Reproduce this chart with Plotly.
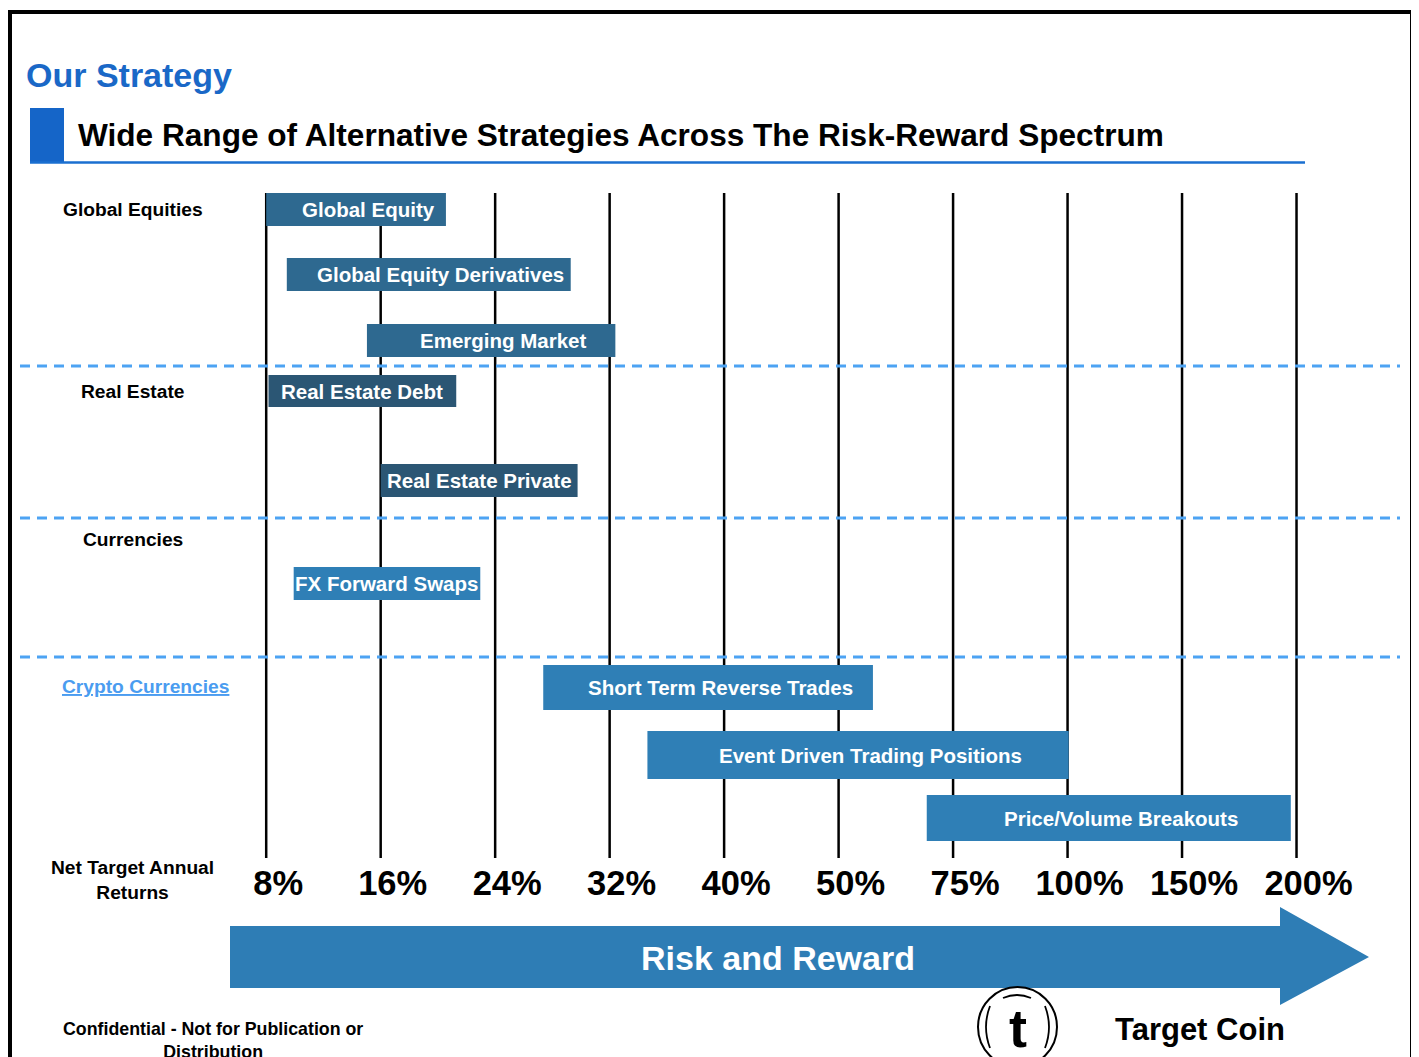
import plotly.graph_objects as go

# ---------------- data ----------------
returns = ["8%", "16%", "24%", "32%", "40%", "50%", "75%", "100%", "150%", "200%"]
asset_classes = ["Global Equities", "Real Estate", "Currencies", "Crypto Currencies"]
strategies = ["Global Equity", "Global Equity Derivatives", "Emerging Market",
              "Real Estate Debt", "Real Estate Private", "FX Forward Swaps",
              "Short Term Reverse Trades", "Event Driven Trading Positions",
              "Price/Volume Breakouts"]
strategy_class = ["Global Equities"] * 3 + ["Real Estate"] * 2 + ["Currencies"] + ["Crypto Currencies"] * 3
# target-return span of each strategy, as a position on the return scale (index into `returns`)
range_low = [0.0, 0.18, 0.88, 0.02, 1.0, 0.24, 2.42, 3.33, 5.77]
range_high = [1.57, 2.66, 3.05, 1.66, 2.72, 1.87, 5.30, 7.01, 8.95]

# ---------------- layout / style ----------------
PAGE_W, PAGE_H = 1419, 1057
OFF = 8  # default page margin of the html body
W, H = PAGE_W - OFF, PAGE_H - OFF
FONT = "Liberation Sans, Arial, Helvetica, sans-serif"
ROW_CENTER = [209.5, 274.5, 340.5, 391, 480.5, 583.5, 687.5, 755, 818]
ROW_HEIGHT = [33, 33, 33, 32, 33, 33, 45, 48, 46]
CLASS_COLOR = {"Global Equities": "#2e6990", "Real Estate": "#2b5674",
               "Currencies": "#2f7fb6", "Crypto Currencies": "#2f7fb6"}
CLASS_TEXT_SHIFT = {"Global Equities": 12, "Real Estate": 0, "Currencies": 0, "Crypto Currencies": 12}
CLASS_LABEL_POS = {"Global Equities": (133, 209), "Real Estate": (133, 391),
                   "Currencies": (133, 539), "Crypto Currencies": (145, 686)}
X0_PX, STEP_PX = 266.2, 114.48
X_RANGE = [(OFF - X0_PX) / STEP_PX, (PAGE_W - X0_PX) / STEP_PX]

fig = go.Figure()

for cls in asset_classes:
    idx = [i for i, c in enumerate(strategy_class) if c == cls]
    fig.add_trace(go.Bar(
        orientation="h",
        y=[ROW_CENTER[i] for i in idx],
        x=[range_high[i] - range_low[i] for i in idx],
        base=[range_low[i] for i in idx],
        width=[ROW_HEIGHT[i] for i in idx],
        marker=dict(color=CLASS_COLOR[cls], line=dict(width=0)),
        hoverinfo="skip", showlegend=False, xaxis="x", yaxis="y",
    ))

annotations = []
for i, name in enumerate(strategies):
    cls = strategy_class[i]
    annotations.append(dict(
        x=(range_low[i] + range_high[i]) / 2, y=ROW_CENTER[i], xref="x", yref="y",
        text=name, showarrow=False, xshift=CLASS_TEXT_SHIFT[cls],
        font=dict(family=FONT, size=20.5, color="white", weight="bold"),
        xanchor="center", yanchor="middle"))

shapes = []
# vertical return lines
for k in range(len(returns)):
    shapes.append(dict(type="line", xref="x", yref="y", x0=k, x1=k, y0=193, y1=858,
                       line=dict(color="black", width=2.5), layer="below"))
# dashed separators
for yy in [366, 518, 657]:
    shapes.append(dict(type="line", xref="x2", yref="y", x0=20, x1=1400, y0=yy, y1=yy,
                       line=dict(color="#4da3f3", width=3, dash="10px,7px"), layer="below"))
# frame
shapes.append(dict(type="path", xref="x2", yref="y", path="M 10 1060 L 10 12 L 1412 12 L 1412 1060",
                   line=dict(color="black", width=4)))
# subtitle marker + underline
shapes.append(dict(type="rect", xref="x2", yref="y", x0=30, x1=64, y0=108, y1=162,
                   fillcolor="#1565c8", line=dict(width=0)))
shapes.append(dict(type="line", xref="x2", yref="y", x0=30, x1=1305, y0=162.5, y1=162.5,
                   line=dict(color="#1a6fd0", width=2.5)))
# big arrow
shapes.append(dict(type="path", xref="x2", yref="y",
                   path="M 230 926 L 1280 926 L 1280 907 L 1369 957 L 1280 1005 L 1280 988 L 230 988 Z",
                   fillcolor="#2e7db5", line=dict(width=0)))
# logo
shapes.append(dict(type="circle", xref="x2", yref="y", x0=978, x1=1057, y0=987, y1=1067,
                   line=dict(color="black", width=2)))
shapes.append(dict(type="path", xref="x2", yref="y", path="M 990 1006 Q 982 1027 990 1048",
                   line=dict(color="black", width=1.8)))
shapes.append(dict(type="path", xref="x2", yref="y", path="M 1045 1006 Q 1053 1027 1045 1048",
                   line=dict(color="black", width=1.8)))
shapes.append(dict(type="path", xref="x2", yref="y", path="M 1003 998 Q 1017 992 1031 998",
                   line=dict(color="black", width=1.8)))

def txt(x, y, text, size, color="black", xanchor="center", weight="bold", align="center"):
    annotations.append(dict(x=x, y=y, xref="x2", yref="y", text=text, showarrow=False,
                            xanchor=xanchor, yanchor="middle", align=align,
                            font=dict(family=FONT, size=size, color=color, weight=weight)))

txt(24, 75, "Our Strategy", 34, color="#1a68c7", xanchor="left")
txt(76, 135, "Wide Range of Alternative Strategies Across The Risk-Reward Spectrum", 31.6, xanchor="left")
for cls in asset_classes:
    x, y = CLASS_LABEL_POS[cls]
    if cls == "Crypto Currencies":
        txt(x, y, "<u>" + cls + "</u>", 19.2, color="#4a9cf0")
    else:
        txt(x, y, cls, 19.2)
txt(132, 880, "Net Target Annual<br>Returns", 19.2)
txt(778, 958, "Risk and Reward", 34, color="white")
txt(213, 1040, "Confidential - Not for Publication or<br>Distribution", 17.8)
txt(1200, 1029, "Target Coin", 31)
txt(1018, 1028, "t", 54)

fig.update_layout(
    width=W, height=H, margin=dict(l=0, r=0, t=0, b=0),
    plot_bgcolor="white", paper_bgcolor="white",
    barmode="overlay", showlegend=False,
    shapes=shapes, annotations=annotations,
    xaxis=dict(range=X_RANGE, tickvals=list(range(len(returns))), ticktext=returns,
               showgrid=False, zeroline=False, showline=False, ticks="",
               anchor="free", position=1 - (859 - OFF) / H, side="bottom",
               ticklabelshift=12, ticklabelstandoff=0,
               tickfont=dict(family=FONT, size=34.5, color="black", weight="bold"),
               fixedrange=True),
    xaxis2=dict(range=[OFF, PAGE_W], overlaying="x", visible=False, anchor="y", fixedrange=True),
    yaxis=dict(range=[PAGE_H, OFF], visible=False, fixedrange=True),
)

fig.write_html("out.html")
